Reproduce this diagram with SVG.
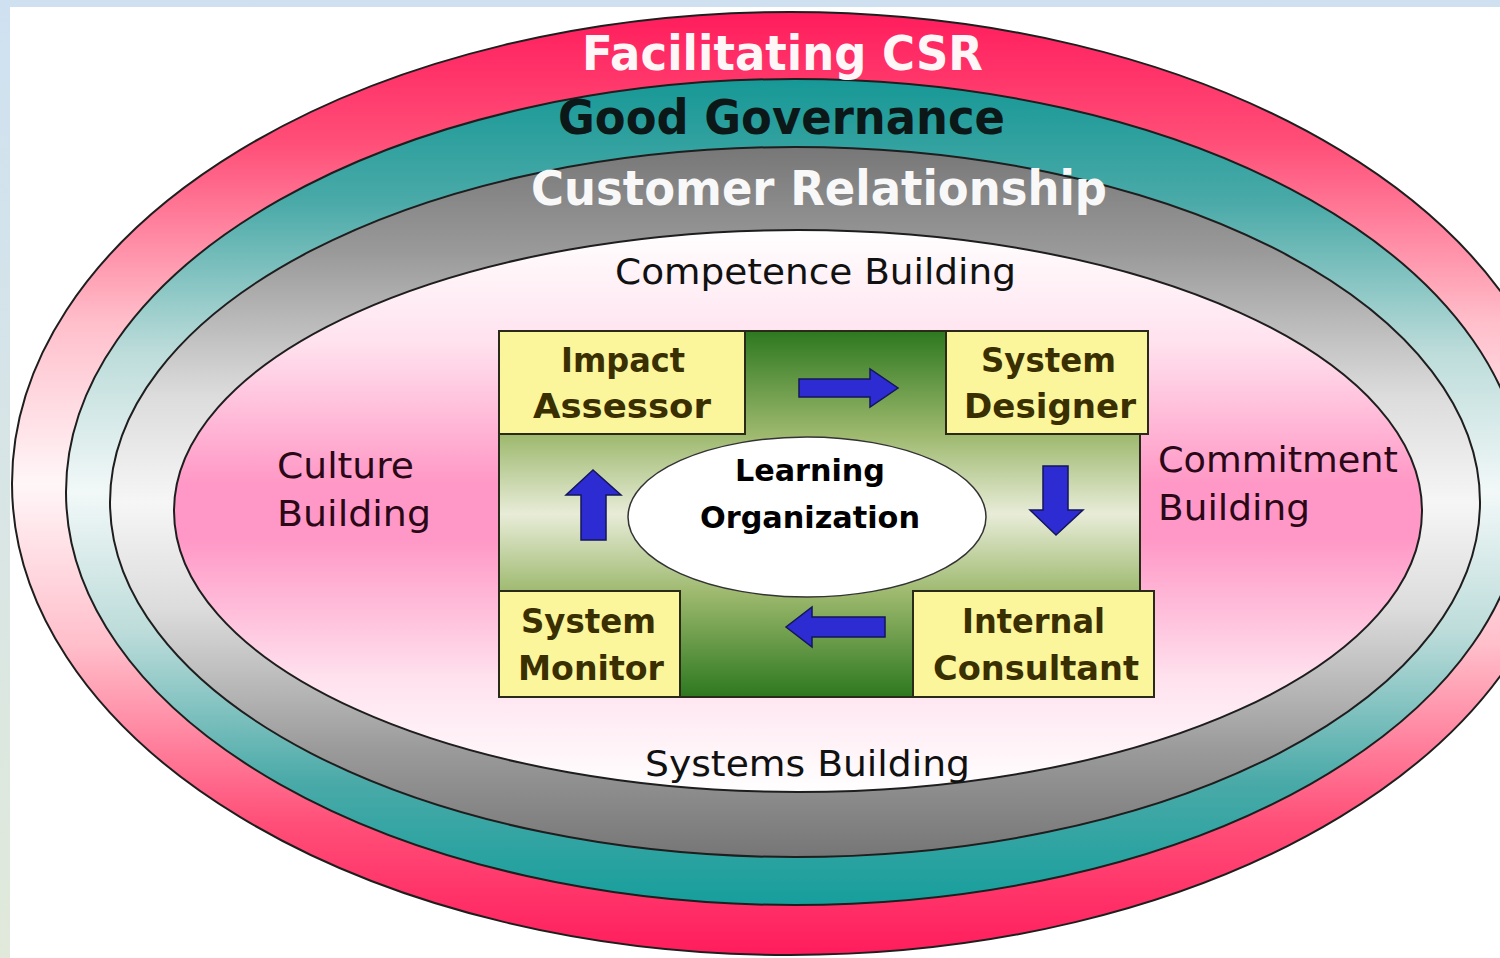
<svg xmlns="http://www.w3.org/2000/svg" width="1500" height="958" viewBox="0 0 1500 958">
<defs>
  <linearGradient id="bgGrad" x1="0" y1="0" x2="0" y2="1">
    <stop offset="0" stop-color="#cfe1f1"/>
    <stop offset="1" stop-color="#e0e9da"/>
  </linearGradient>
  <linearGradient id="pinkBand" x1="0" y1="0" x2="0" y2="1">
    <stop offset="0" stop-color="#ff1c5c"/>
    <stop offset="0.14" stop-color="#ff4f78"/>
    <stop offset="0.33" stop-color="#ffbfcb"/>
    <stop offset="0.5" stop-color="#fff6f8"/>
    <stop offset="0.67" stop-color="#ffbfcb"/>
    <stop offset="0.86" stop-color="#ff4f78"/>
    <stop offset="1" stop-color="#ff1c5c"/>
  </linearGradient>
  <linearGradient id="tealBand" x1="0" y1="0" x2="0" y2="1">
    <stop offset="0" stop-color="#169896"/>
    <stop offset="0.15" stop-color="#4aaaa8"/>
    <stop offset="0.33" stop-color="#bcdcda"/>
    <stop offset="0.5" stop-color="#f2f8f8"/>
    <stop offset="0.67" stop-color="#bcdcda"/>
    <stop offset="0.85" stop-color="#4aaaa8"/>
    <stop offset="1" stop-color="#169e9c"/>
  </linearGradient>
  <linearGradient id="grayBand" x1="0" y1="0" x2="0" y2="1">
    <stop offset="0" stop-color="#777777"/>
    <stop offset="0.15" stop-color="#9a9a9a"/>
    <stop offset="0.35" stop-color="#dcdcdc"/>
    <stop offset="0.5" stop-color="#f6f6f6"/>
    <stop offset="0.65" stop-color="#dcdcdc"/>
    <stop offset="0.85" stop-color="#9a9a9a"/>
    <stop offset="1" stop-color="#767676"/>
  </linearGradient>
  <linearGradient id="innerPink" x1="0" y1="0" x2="0" y2="1">
    <stop offset="0" stop-color="#ffffff"/>
    <stop offset="0.2" stop-color="#ffe2ee"/>
    <stop offset="0.45" stop-color="#ff98c6"/>
    <stop offset="0.55" stop-color="#ff98c6"/>
    <stop offset="0.8" stop-color="#ffe2ee"/>
    <stop offset="1" stop-color="#ffffff"/>
  </linearGradient>
  <linearGradient id="greenGrad" x1="0" y1="0" x2="0" y2="1">
    <stop offset="0" stop-color="#2d7820"/>
    <stop offset="0.28" stop-color="#9cb86c"/>
    <stop offset="0.5" stop-color="#e8ecd8"/>
    <stop offset="0.72" stop-color="#9cb86c"/>
    <stop offset="1" stop-color="#2d7820"/>
  </linearGradient>
  <style>
    .ring { stroke: #1e1e1e; stroke-width: 2; }
    .box { fill: #fbf59c; stroke: #2a2a1a; stroke-width: 2; }
    .boxText { font-family: "DejaVu Sans", "Liberation Sans", sans-serif; font-weight: bold; font-size: 34px; fill: #3a2f00; }
    .title { font-family: "DejaVu Sans", "Liberation Sans", sans-serif; font-weight: bold; font-size: 48px; }
    .label { font-family: "DejaVu Sans", "Liberation Sans", sans-serif; font-size: 35px; }
    .core { font-family: "DejaVu Sans Condensed", "DejaVu Sans", sans-serif; font-weight: bold; font-size: 31px; fill: #000; }
    .arrow { fill: #2c2cd2; stroke: #15155a; stroke-width: 1.5; stroke-linejoin: miter; }
  </style>
</defs>

<rect x="0" y="0" width="1500" height="958" fill="url(#bgGrad)"/>
<rect x="10" y="7" width="1490" height="951" fill="#ffffff"/>

<g id="ring-csr">
  <ellipse class="ring" cx="790" cy="483.5" rx="778" ry="471.5" fill="url(#pinkBand)"/>
</g>
<g id="ring-governance">
  <ellipse class="ring" cx="795" cy="492" rx="729" ry="413" fill="url(#tealBand)"/>
</g>
<g id="ring-customer">
  <ellipse class="ring" cx="795" cy="502" rx="685" ry="355" fill="url(#grayBand)"/>
</g>
<g id="ring-inner">
  <ellipse class="ring" cx="798" cy="511" rx="624" ry="281" fill="url(#innerPink)"/>
</g>

<g id="label-csr">
  <text class="title" x="582" y="70" textLength="401" lengthAdjust="spacingAndGlyphs" fill="#fff6f8">Facilitating CSR</text>
</g>
<g id="label-governance">
  <text class="title" x="558" y="134" textLength="447" lengthAdjust="spacingAndGlyphs" fill="#0c1818">Good Governance</text>
</g>
<g id="label-customer">
  <text class="title" x="531" y="205" textLength="576" lengthAdjust="spacingAndGlyphs" fill="#f8f8f8">Customer Relationship</text>
</g>
<g id="label-competence">
  <text class="label" x="615" y="284" textLength="401" lengthAdjust="spacingAndGlyphs" fill="#111">Competence Building</text>
</g>
<g id="label-culture">
  <text class="label" x="277" y="478" textLength="137" lengthAdjust="spacingAndGlyphs" fill="#2a0818">Culture</text>
  <text class="label" x="277" y="526" textLength="154" lengthAdjust="spacingAndGlyphs" fill="#2a0818">Building</text>
</g>
<g id="label-commitment">
  <text class="label" x="1158" y="472" textLength="240" lengthAdjust="spacingAndGlyphs" fill="#2a0818">Commitment</text>
  <text class="label" x="1158" y="520" textLength="152" lengthAdjust="spacingAndGlyphs" fill="#2a0818">Building</text>
</g>
<g id="label-systems">
  <text class="label" x="645" y="776" textLength="325" lengthAdjust="spacingAndGlyphs" fill="#111">Systems Building</text>
</g>

<g id="green-panel">
  <rect x="499" y="331" width="641" height="366" fill="url(#greenGrad)" stroke="#2a2a1a" stroke-width="2"/>
</g>

<g id="learning-organization">
  <ellipse cx="807" cy="517" rx="179" ry="80" fill="#ffffff" stroke="#333" stroke-width="1.5"/>
  <text class="core" x="735" y="481" textLength="150" lengthAdjust="spacingAndGlyphs">Learning</text>
  <text class="core" x="700" y="528" textLength="220" lengthAdjust="spacingAndGlyphs">Organization</text>
</g>

<g id="impact-assessor">
  <rect class="box" x="499" y="331" width="246" height="103"/>
  <text class="boxText" x="561" y="372" textLength="124" lengthAdjust="spacingAndGlyphs">Impact</text>
  <text class="boxText" x="533" y="418" textLength="178" lengthAdjust="spacingAndGlyphs">Assessor</text>
</g>
<g id="system-designer">
  <rect class="box" x="946" y="331" width="202" height="103"/>
  <text class="boxText" x="981" y="372" textLength="135" lengthAdjust="spacingAndGlyphs">System</text>
  <text class="boxText" x="964" y="418" textLength="172" lengthAdjust="spacingAndGlyphs">Designer</text>
</g>
<g id="internal-consultant">
  <rect class="box" x="913" y="591" width="241" height="106"/>
  <text class="boxText" x="962" y="633" textLength="143" lengthAdjust="spacingAndGlyphs">Internal</text>
  <text class="boxText" x="933" y="680" textLength="206" lengthAdjust="spacingAndGlyphs">Consultant</text>
</g>
<g id="system-monitor">
  <rect class="box" x="499" y="591" width="181" height="106"/>
  <text class="boxText" x="521" y="633" textLength="135" lengthAdjust="spacingAndGlyphs">System</text>
  <text class="boxText" x="518" y="680" textLength="146" lengthAdjust="spacingAndGlyphs">Monitor</text>
</g>

<g id="connectors">
  <polygon class="arrow" points="799,379 870,379 870,369 898,388 870,407 870,397 799,397"/>
  <polygon class="arrow" points="1043,466 1068,466 1068,510 1083,510 1056,535 1030,510 1043,510"/>
  <polygon class="arrow" points="885,617 812,617 812,607 786,627 812,647 812,637 885,637"/>
  <polygon class="arrow" points="581,540 606,540 606,495 621,495 593,470 566,495 581,495"/>
</g>
</svg>
